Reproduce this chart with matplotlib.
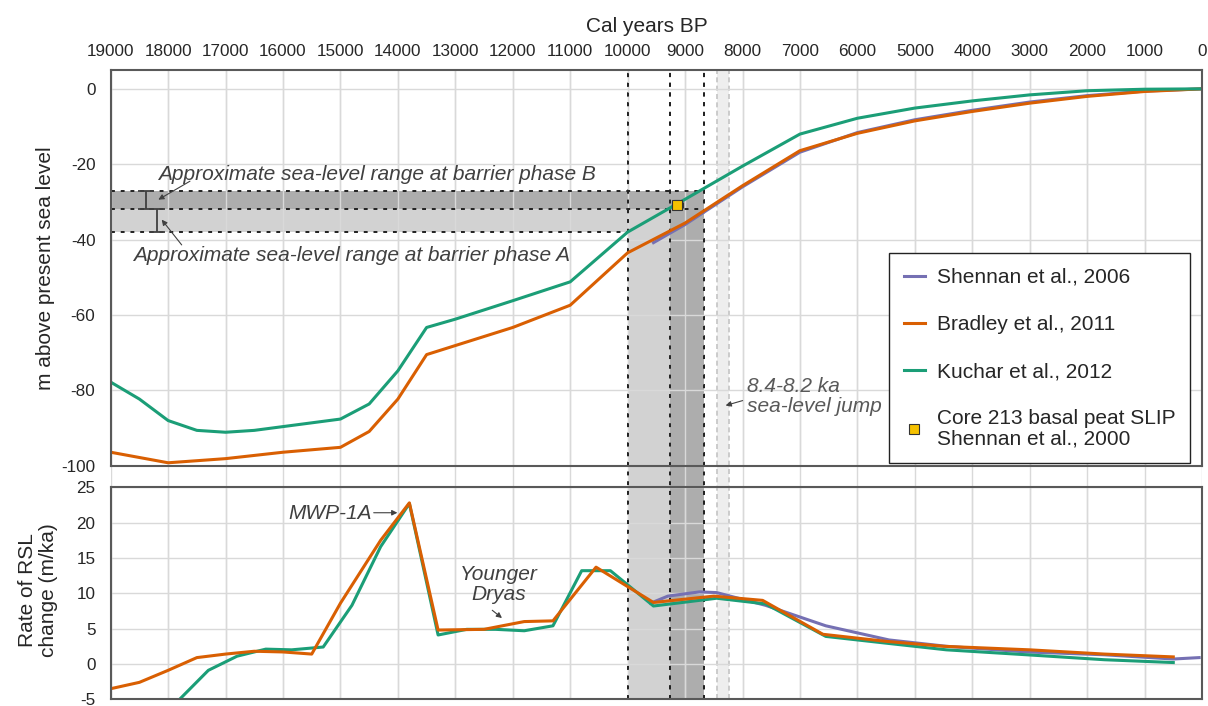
import numpy as np
import matplotlib.pyplot as plt
from matplotlib.lines import Line2D

plt.rcParams['font.family'] = ['Liberation Sans', 'DejaVu Sans']
plt.rcParams['axes.unicode_minus'] = False

# --- relative sea level (m above present) ---
kuchar_years = [19000, 18500, 18000, 17500, 17000, 16500, 16000, 15000, 14500, 14000, 13500,
                13000, 12000, 11000, 10000, 9000, 8000, 7000, 6000, 5000, 4000, 3000, 2000, 1000, 0]
kuchar_rsl = [-77.8, -82.3, -88.0, -90.6, -91.1, -90.6, -89.6, -87.6, -83.6, -74.8, -63.3,
              -61.1, -56.2, -51.2, -38.0, -29.3, -20.5, -12.0, -7.8, -5.1, -3.2, -1.6, -0.5, -0.1, 0.0]

bradley_years = [19000, 18000, 17000, 16000, 15000, 14500, 14000, 13500, 13000, 12000, 11000,
                 10000, 9000, 8000, 7000, 6000, 5000, 4000, 3000, 2000, 1000, 0]
bradley_rsl = [-96.4, -99.2, -98.1, -96.4, -95.1, -90.9, -82.3, -70.5, -68.1, -63.3, -57.4,
               -43.5, -35.6, -25.7, -16.4, -11.8, -8.5, -6.0, -3.8, -2.0, -0.7, 0.0]

shennan_years = [9550, 9000, 8000, 7000, 6000, 5000, 4000, 3000, 2000, 1000, 0]
shennan_rsl = [-40.8, -36.0, -26.0, -16.8, -11.6, -8.2, -5.7, -3.5, -1.8, -0.6, 0.0]

# basal peat sea-level index point (core 213)
core_year, core_year_err = 9135, 100
core_rsl, core_rsl_err = -30.7, 1.3

# --- rate of RSL change (m/ka) ---
kuchar_rate_years = [17800, 17300, 16800, 16300, 15850, 15300, 14800, 14300, 13800, 13300, 12800,
                     12300, 11800, 11300, 10800, 10300, 9550, 8450, 7600, 6550, 5450, 4450, 3050, 1700, 500]
kuchar_rate = [-5.0, -0.9, 1.1, 2.1, 2.0, 2.4, 8.3, 16.6, 22.7, 4.1, 4.9,
               4.9, 4.7, 5.4, 13.2, 13.2, 8.2, 9.3, 8.5, 3.9, 2.9, 2.0, 1.3, 0.6, 0.2]

bradley_rate_years = [19000, 18500, 18000, 17500, 17000, 16500, 16000, 15500, 15000, 14300, 13800,
                      13300, 12500, 11800, 11300, 10550, 9550, 8500, 7650, 6600, 5500, 4500, 3000, 1700, 500]
bradley_rate = [-3.5, -2.6, -0.9, 0.9, 1.4, 1.8, 1.7, 1.4, 8.6, 17.5, 22.8,
                4.8, 4.9, 6.0, 6.1, 13.7, 8.7, 9.6, 9.0, 4.2, 3.2, 2.5, 2.0, 1.4, 1.0]

shennan_rate_years = [9600, 9300, 8750, 8450, 7600, 6550, 5450, 4450, 3050, 1700, 500, 50]
shennan_rate = [8.6, 9.6, 10.2, 10.1, 8.3, 5.4, 3.4, 2.5, 1.7, 1.3, 0.7, 0.9]

# barrier phases and the 8.2 ka event
phase_a_years = (10000, 9260)
phase_b_years = (9260, 8670)
phase_a_rsl = (-38, -32)
phase_b_rsl = (-32, -27)
jump_years = (8450, 8230)

year_ticks = list(range(19000, -1, -1000))

c_shennan = '#7570b3'
c_bradley = '#d95f02'
c_kuchar = '#1b9e77'
c_light = '#d2d2d2'
c_dark = '#adadad'
c_grid = '#d9d9d9'
c_text = '#262626'
c_note = '#404040'

W, H = 1208, 706
fig = plt.figure(figsize=(W / 100, H / 100), dpi=100)

left, right = 110.7 / W, 1202 / W
top_up, bot_up = 70 / H, 465.8 / H
top_lo, bot_lo = 487.3 / H, 699.3 / H

# background axes: vertical grid, shading in the gap and lower panel, dotted lines
bg = fig.add_axes([left, 1 - bot_lo, right - left, bot_lo - top_up], zorder=0)
bg.set_xlim(19000, 0)
bg.set_ylim(0, 1)
bg.axis('off')
frac_gap = (bot_lo - bot_up) / (bot_lo - top_up)
bg.axvspan(*jump_years, color='#eeeeee', lw=0)
for yr in jump_years:
    bg.axvline(yr, color='#c4c4c4', ls=(0, (3, 2)), lw=1.2)
bg.axvspan(*phase_a_years, ymin=0, ymax=frac_gap, color=c_light, lw=0)
bg.axvspan(*phase_b_years, ymin=0, ymax=frac_gap, color=c_dark, lw=0)
for yr in year_ticks:
    bg.axvline(yr, color=c_grid, lw=1)
for yr in (phase_a_years[0], phase_a_years[1], phase_b_years[1]):
    bg.axvline(yr, color='#222222', ls=(0, (2, 3)), lw=1.4)

# upper panel: relative sea level
ax1 = fig.add_axes([left, 1 - bot_up, right - left, bot_up - top_up], zorder=1)
ax1.set_facecolor('none')
ax1.set_xlim(19000, 0)
ax1.set_ylim(-100, 5)
ax1.set_axisbelow('line')
ax1.grid(True, color=c_grid, lw=1)

# shading for the two barrier phases
ax1.fill_between([19000, phase_a_years[1]], *phase_a_rsl, color=c_light, lw=0)
ax1.fill_between(list(phase_a_years), -100, phase_a_rsl[1], color=c_light, lw=0)
ax1.fill_between([19000, phase_b_years[1]], *phase_b_rsl, color=c_dark, lw=0)
ax1.fill_between(list(phase_b_years), -100, phase_b_rsl[1], color=c_dark, lw=0)
dots = dict(color='#222222', ls=(0, (2, 3)), lw=1.4)
ax1.hlines(phase_b_rsl[1], 19000, phase_b_years[1], **dots)
ax1.hlines(phase_b_rsl[0], 19000, phase_b_years[1], **dots)
ax1.hlines(phase_a_rsl[0], 19000, phase_a_years[0], **dots)
for yr in (phase_a_years[0], phase_a_years[1], phase_b_years[1]):
    ax1.axvline(yr, **dots)

ax1.plot(shennan_years, shennan_rsl, color=c_shennan, lw=2.2)
ax1.plot(bradley_years, bradley_rsl, color=c_bradley, lw=2.2)
ax1.plot(kuchar_years, kuchar_rsl, color=c_kuchar, lw=2.2)
ax1.errorbar(core_year, core_rsl, xerr=core_year_err, yerr=core_rsl_err, fmt='s', ms=7,
             mfc='#f5c100', mec='#333333', mew=0.8, ecolor='#333333', elinewidth=1,
             capsize=2.5, zorder=5)

# range brackets for phases A and B
ax1.errorbar(18390, np.mean(phase_b_rsl), yerr=np.diff(phase_b_rsl) / 2, fmt='none',
             ecolor=c_note, elinewidth=1.3, capsize=6, capthick=1.3)
ax1.errorbar(18200, np.mean(phase_a_rsl), yerr=np.diff(phase_a_rsl) / 2, fmt='none',
             ecolor=c_note, elinewidth=1.3, capsize=6, capthick=1.3)

arrow = dict(arrowstyle='-|>', color=c_note, lw=0.8, mutation_scale=8, shrinkA=0, shrinkB=0)
ax1.text(18171, -22.6, 'Approximate sea-level range at barrier phase B', fontsize=15,
         style='italic', color=c_note, ha='left', va='center')
ax1.annotate('', xy=(18171, -29.4), xytext=(17620, -24.5), arrowprops=arrow)
ax1.text(18607, -44.3, 'Approximate sea-level range at barrier phase A', fontsize=15,
         style='italic', color=c_note, ha='left', va='center')
ax1.annotate('', xy=(18112, -34.7), xytext=(17764, -41.4), arrowprops=arrow)
ax1.text(7928, -81.6, '8.4-8.2 ka\nsea-level jump', fontsize=15, style='italic',
         color='#595959', ha='left', va='center', linespacing=1.05)
ax1.annotate('', xy=(8294, -84.0), xytext=(7998, -82.7), arrowprops=arrow)

ax1.set_xticks(year_ticks)
ax1.set_xticklabels([str(y) for y in year_ticks])
ax1.xaxis.tick_top()
ax1.xaxis.set_label_position('top')
ax1.set_xlabel('Cal years BP', fontsize=15, color=c_text)
ax1.xaxis.set_label_coords(0.4914, 1.096)
ax1.set_yticks([0, -20, -40, -60, -80, -100])
ax1.tick_params(axis='both', length=0, labelsize=12.3, labelcolor=c_text)
ax1.tick_params(axis='x', pad=8)
ax1.tick_params(axis='y', pad=11)
for sp in ax1.spines.values():
    sp.set_color('#595959')
    sp.set_linewidth(1.5)

handles = [Line2D([], [], color=c_shennan, lw=2.2),
           Line2D([], [], color=c_bradley, lw=2.2),
           Line2D([], [], color=c_kuchar, lw=2.2),
           Line2D([], [], ls='none', marker='s', ms=7, mfc='#f5c100', mec='#333333', mew=0.8)]
labels = ['Shennan et al., 2006', 'Bradley et al., 2011', 'Kuchar et al., 2012',
          'Core 213 basal peat SLIP\nShennan et al., 2000']
leg = ax1.legend(handles, labels, loc='upper left', bbox_to_anchor=(889.3 / W, 1 - 253.3 / H),
                 bbox_transform=fig.transFigure, borderaxespad=0, fontsize=15, frameon=True,
                 fancybox=False, edgecolor='#222222', framealpha=1, handlelength=1.0,
                 handletextpad=0.6, labelspacing=1.35, borderpad=0.7)
leg.get_frame().set_linewidth(1)
for t in leg.get_texts():
    t.set_color(c_text)
    t.set_linespacing(1.05)

# lower panel: rate of change
ax2 = fig.add_axes([left, 1 - bot_lo, right - left, bot_lo - top_lo], zorder=1)
ax2.set_facecolor('none')
ax2.set_xlim(19000, 0)
ax2.set_ylim(-5, 25)
ax2.set_axisbelow('line')
ax2.grid(True, color=c_grid, lw=1)
for yr in (phase_a_years[0], phase_a_years[1], phase_b_years[1]):
    ax2.axvline(yr, **dots)

ax2.plot(shennan_rate_years, shennan_rate, color=c_shennan, lw=2.2)
ax2.plot(kuchar_rate_years, kuchar_rate, color=c_kuchar, lw=2.2)
ax2.plot(bradley_rate_years, bradley_rate, color=c_bradley, lw=2.2)

ax2.text(14456, 21.3, 'MWP-1A', fontsize=15, style='italic', color=c_note, ha='right', va='center')
ax2.annotate('', xy=(14009, 21.4), xytext=(14421, 21.4), arrowprops=arrow)
ax2.text(12240, 11.2, 'Younger\nDryas', fontsize=15, style='italic', color=c_note,
         ha='center', va='center', linespacing=1.05)
ax2.annotate('', xy=(12188, 6.5), xytext=(12357, 7.6), arrowprops=arrow)

ax2.set_xticks(year_ticks)
ax2.set_xticklabels([])
ax2.set_yticks([-5, 0, 5, 10, 15, 20, 25])
ax2.tick_params(axis='both', length=0, labelsize=12.3, labelcolor=c_text)
ax2.tick_params(axis='y', pad=11)
for sp in ax2.spines.values():
    sp.set_color('#595959')
    sp.set_linewidth(1.5)

fig.text(46 / W, 1 - 268 / H, 'm above present sea level', rotation=90, fontsize=15,
         color=c_text, ha='center', va='center')
fig.text(38 / W, 1 - 590 / H, 'Rate of RSL\nchange (m/ka)', rotation=90, fontsize=15,
         color=c_text, ha='center', va='center', multialignment='center', linespacing=1.1)

fig.savefig('out.png', dpi=100)
